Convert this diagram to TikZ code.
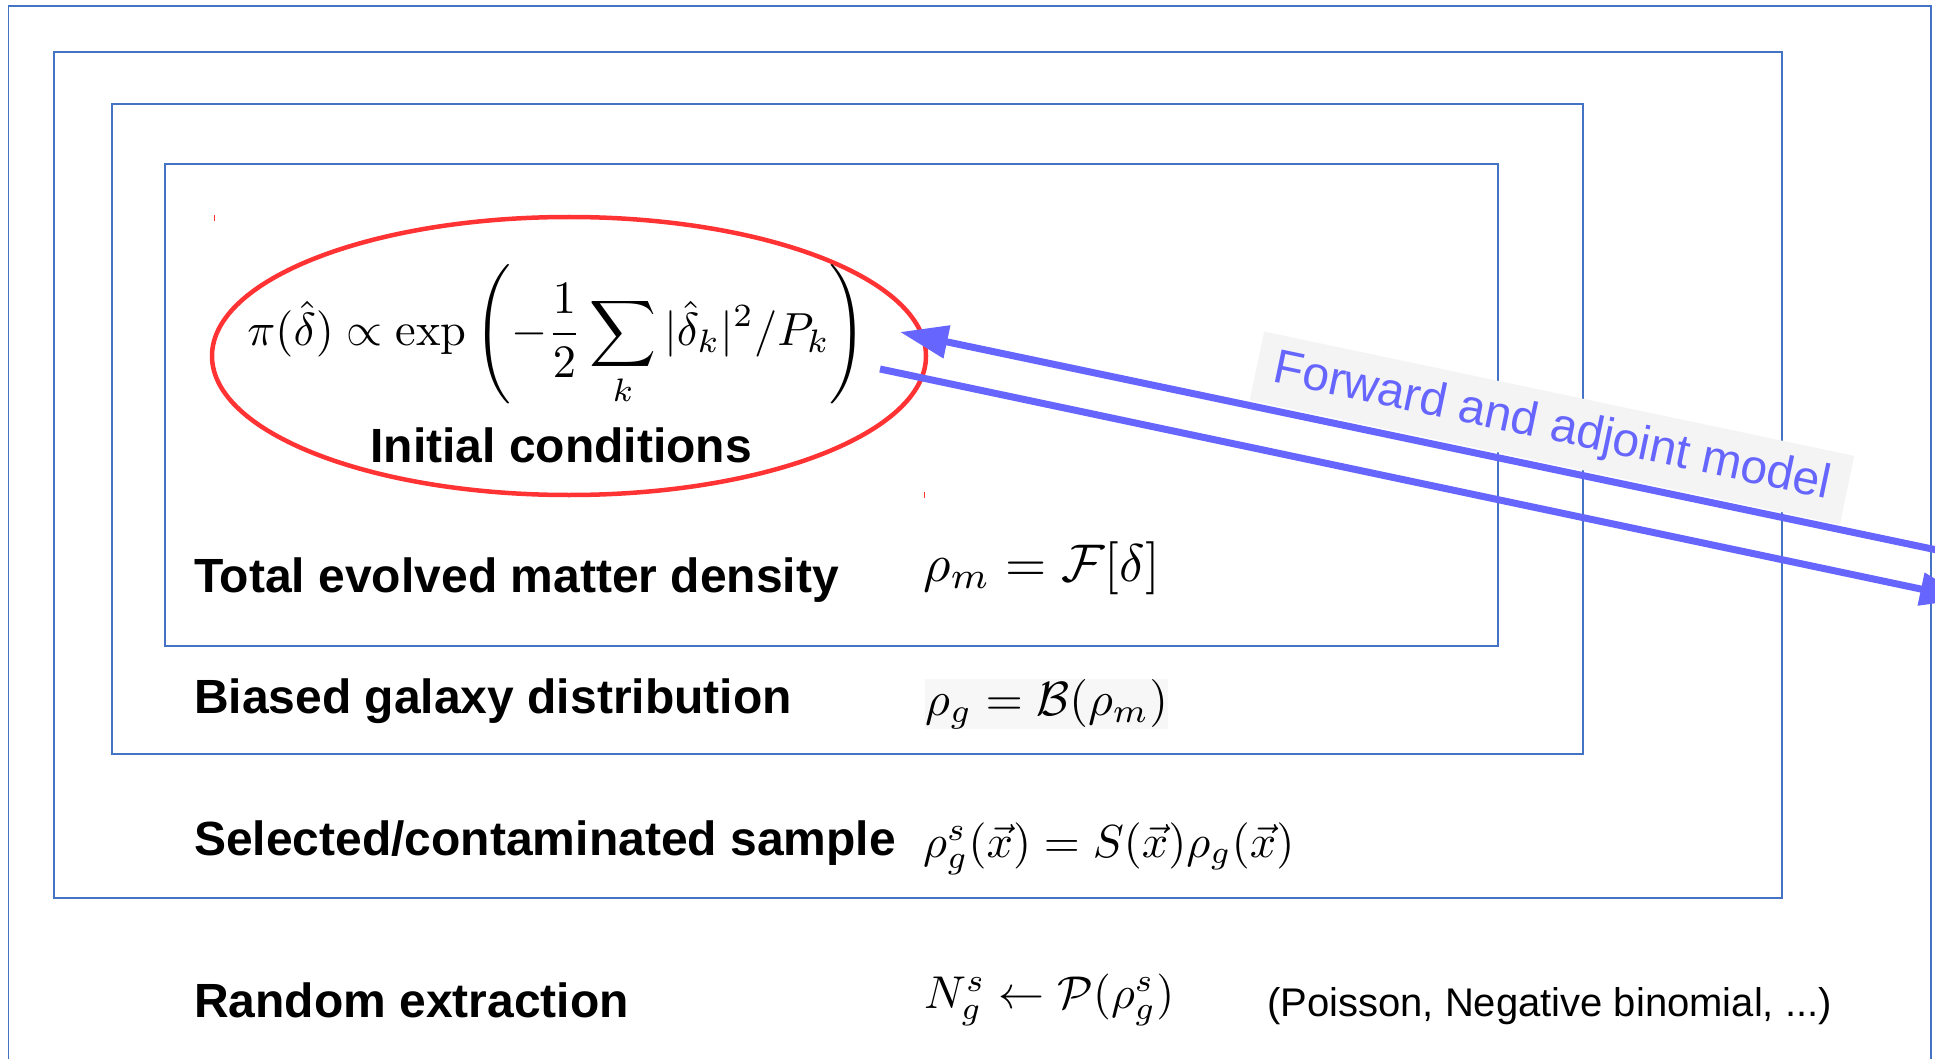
\documentclass[tikz,border=0pt]{standalone}
\usepackage{amsmath}
\usepackage{fontspec}
\newfontfamily\arialf{Liberation Sans}
\usetikzlibrary{shapes.geometric,arrows.meta}
\newcommand\bigmathx[2][4.8]{\scalebox{#1}{$#2$}}
\definecolor{boxblue}{RGB}{68,114,196}
\definecolor{arrblue}{RGB}{102,102,255}
\definecolor{ellred}{RGB}{255,51,51}
\definecolor{lblbg}{RGB}{244,244,244}
\definecolor{eqbg}{RGB}{247,247,247}
\tikzset{
  frame/.style={draw=boxblue, line width=1.5pt},
  lbl/.style={anchor=base west, inner sep=0pt, font=\fontsize{48}{57}\selectfont\arialf\bfseries},
  eq/.style={anchor=base west, inner sep=0pt, font=\fontsize{10}{12}\selectfont},
  fwd/.style={draw=arrblue, line width=7pt, -{Triangle[length=48pt,width=32pt]}},
  tick/.style={draw=ellred, line width=1pt},
}
\begin{document}
\begin{tikzpicture}[x=1pt,y=-1pt]
\clip (0,0) rectangle (1935,1059);
\fill[white] (0,0) rectangle (1935,1059);
% nested frames
\draw[frame] (8.6,6) rectangle (1931,1090);
\draw[frame] (54,52) rectangle (1782,898);
\draw[frame] (112,104) rectangle (1583,754);
\draw[frame] (165,164) rectangle (1498,646);
% initial conditions ellipse
\node[ellipse, draw=ellred, line width=4.5pt, minimum width=714pt, minimum height=278pt, inner sep=0pt] (ic) at (569,356) {};
\draw[tick] (214,215) -- (214,221);
\draw[tick] (924,492) -- (924,498);
\node[inner sep=0pt, font=\fontsize{10}{12}\selectfont] (prior) at (557,335)
  {\bigmathx[4.64]{\displaystyle \pi(\hat\delta)\propto\exp\left(-\frac{1}{2}\sum_k|\hat\delta_k|^2/P_k\right)}};
\node[anchor=base, inner sep=0pt, font=\fontsize{48}{57}\selectfont\arialf\bfseries] (iclbl) at (561,462) {Initial conditions};
% arrow label
\node[fill=lblbg, rotate=-11.9, minimum width=603pt, minimum height=70pt, inner sep=0pt,
      text=arrblue, font=\fontsize{48}{57}\selectfont\arialf] (fwdlbl) at (1552,428) {Forward and adjoint model};
% arrows
\coordinate (upS) at (1975,558);
\coordinate (upT) at (900,332);
\coordinate (loS) at (880,369);
\coordinate (loT) at (1968,599);
\draw[fwd] (upS) -- (upT);
\draw[fwd] (loS) -- (loT);
% rows
\node[lbl] (l1) at (194,592) {Total evolved matter density};
\node[eq] (e1) at (923,581) {\bigmathx[5.3]{\rho_m=\mathcal{F}[\delta]}};
\node[lbl] (l2) at (194,713) {Biased galaxy distribution};
\node[eq, fill=eqbg] (e2) at (925,715) {\bigmathx{\rho_g=\mathcal{B}(\rho_m)}};
\node[lbl] (l3) at (194,855) {Selected/contaminated sample};
\node[eq] (e3) at (923,857) {\bigmathx[4.63]{\rho_g^s(\vec{x})=S(\vec{x})\rho_g(\vec{x})}};
\node[lbl] (l4) at (194,1017) {Random extraction};
\node[eq] (e4) at (924,1008) {\bigmathx[4.6]{N_g^s\leftarrow\mathcal{P}(\rho_g^s)}};
\node[anchor=base west, inner sep=0pt, font=\fontsize{40}{48}\selectfont\arialf] (note) at (1267,1016) {(Poisson, Negative binomial, ...)};
\end{tikzpicture}
\end{document}
